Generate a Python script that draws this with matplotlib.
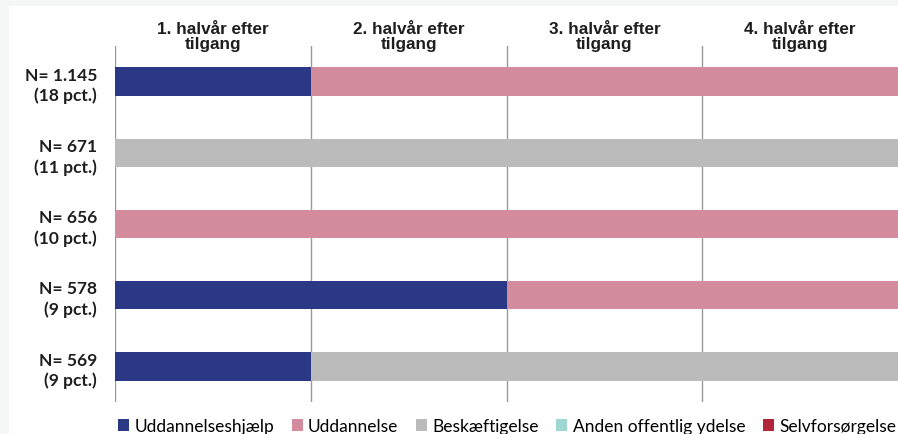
import matplotlib.pyplot as plt
from matplotlib.patches import Rectangle, Patch

# data: number of half-years in each status, one list per status
rows = ['N= 1.145\n(18 pct.)', 'N= 671\n(11 pct.)', 'N= 656\n(10 pct.)',
        'N= 578\n(9 pct.)', 'N= 569\n(9 pct.)']
headers = ['1. halvår efter\ntilgang', '2. halvår efter\ntilgang',
           '3. halvår efter\ntilgang', '4. halvår efter\ntilgang']
categories = ['Uddannelseshjælp', 'Uddannelse', 'Beskæftigelse',
              'Anden offentlig ydelse', 'Selvforsørgelse']
uddannelseshjaelp = [1, 0, 0, 2, 1]
uddannelse = [3, 0, 4, 2, 0]
beskaeftigelse = [0, 4, 0, 0, 3]
anden = [0, 0, 0, 0, 0]
selvforsorgelse = [0, 0, 0, 0, 0]
colors = ['#2b3886', '#d38b9e', '#bbbbbb', '#9fd8d3', '#b3253a']

series = [uddannelseshjaelp, uddannelse, beskaeftigelse, anden, selvforsorgelse]

fig = plt.figure(figsize=(8.98, 4.35), dpi=100, facecolor='white')
# light grey frame on the left and top
fig.patches.append(Rectangle((0, 0), 9 / 898, 1, transform=fig.transFigure,
                             facecolor='#f5f7f7', edgecolor='none', zorder=-1))
fig.patches.append(Rectangle((0, 1 - 7 / 435), 1, 7 / 435, transform=fig.transFigure,
                             facecolor='#f5f7f7', edgecolor='none', zorder=-1))
ax = fig.add_axes([115 / 898, 1 - 403 / 435, 1 - 115 / 898, (403 - 47) / 435])
ax.set_facecolor('white')

y = list(range(len(rows)))
left = [0] * len(rows)
for vals, col in zip(series, colors):
    ax.barh(y, vals, left=left, height=0.4, color=col, zorder=2)
    left = [a + b for a, b in zip(left, vals)]

ax.set_xlim(0, 4)
ax.set_ylim(len(rows) - 0.5, -0.5)
for xv in range(4):
    ax.axvline(xv, color='#999999', lw=1, zorder=1)

ax.set_yticks(y)
ax.set_yticklabels(rows, fontsize=12.5, fontweight='bold', family='Lato',
                   color='#1e1e1e', ha='right', linespacing=1.3)
ax.tick_params(axis='y', length=0, pad=13)
ax.set_xticks([])
for s in ax.spines.values():
    s.set_visible(False)

# column headers above the grid
for i, h in enumerate(headers):
    ax.text(i + 0.5, 1.0 + 25 / 356, h, transform=ax.get_xaxis_transform(),
            ha='center', va='top', fontsize=12.3, fontweight='bold',
            family='Liberation Sans', color='#1e1e1e', linespacing=1.0)

handles = [Patch(facecolor=c, edgecolor='none') for c in colors]
fig.legend(handles, categories, loc='lower center', bbox_to_anchor=(507 / 898, -0.036),
           ncol=5, frameon=False, prop={'family': 'Lato', 'size': 12.5},
           handlelength=0.65, handleheight=0.65, handletextpad=0.3, columnspacing=1.0)

fig.savefig('out.png', dpi=100)
